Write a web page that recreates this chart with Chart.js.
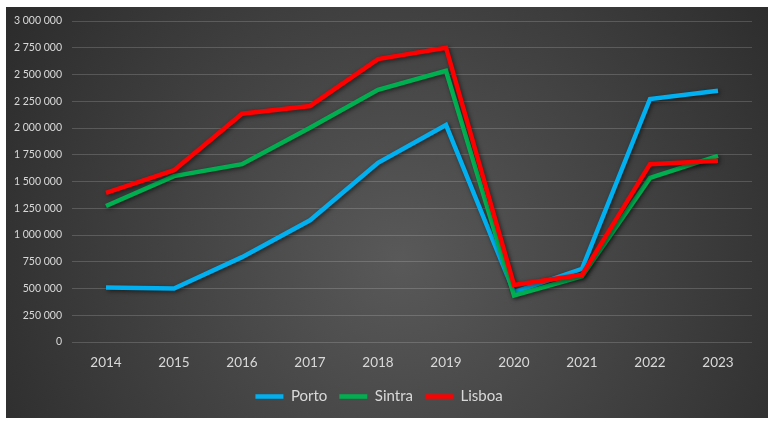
<!DOCTYPE html>
<html>
<head>
<meta charset="utf-8">
<script src="https://cdn.jsdelivr.net/npm/chart.js@4/dist/chart.umd.min.js"></script>
<style>
  html, body { margin: 0; padding: 0; background: #fff; }
  canvas { display: block; }
</style>
</head>
<body>
<canvas id="chart" width="768" height="422"></canvas>
<script>
// --- данные ---
const years = ['2014', '2015', '2016', '2017', '2018', '2019', '2020', '2021', '2022', '2023'];
const porto  = [510000, 500000, 793000, 1137000, 1674000, 2028000, 465000, 684000, 2271000, 2349000];
const sintra = [1271000, 1550000, 1662000, 2003000, 2356000, 2534000, 434000, 615000, 1534000, 1740000];
const lisboa = [1393000, 1606000, 2134000, 2206000, 2644000, 2750000, 534000, 628000, 1662000, 1693000];
const seriesNames = ['Porto', 'Sintra', 'Lisboa'];
const seriesColors = ['#00B0F0', '#00B050', '#FF0000'];

// тёмный фон с радиальным градиентом, как в Excel
const bgPlugin = {
  id: 'bg',
  beforeDraw(chart) {
    const ctx = chart.ctx;
    ctx.save();
    const g = ctx.createRadialGradient(400, 260, 0, 400, 260, 480);
    g.addColorStop(0, '#595959');
    g.addColorStop(1, '#2a2a2a');
    ctx.fillStyle = g;
    ctx.fillRect(6, 7, 762, 411);
    ctx.restore();
  }
};

// тень под линиями
const shadowPlugin = {
  id: 'shadow',
  beforeDatasetDraw(chart) {
    const ctx = chart.ctx;
    ctx.save();
    ctx.shadowColor = 'rgba(0,0,0,0.55)';
    ctx.shadowBlur = 4;
    ctx.shadowOffsetX = 1.5;
    ctx.shadowOffsetY = 1.5;
  },
  afterDatasetDraw(chart) {
    chart.ctx.restore();
  }
};

const fmt = v => String(v).replace(/\B(?=(\d{3})+(?!\d))/g, ' ');

const allSeries = [porto, sintra, lisboa];
new Chart(document.getElementById('chart'), {
  type: 'line',
  data: {
    labels: years,
    datasets: allSeries.map((d, i) => ({
      label: seriesNames[i],
      data: d,
      borderColor: seriesColors[i],
      backgroundColor: seriesColors[i],
      borderWidth: 4.5,
      pointRadius: 0,
      tension: 0,
      order: 3 - i
    }))
  },
  options: {
    responsive: false,
    animation: false,
    devicePixelRatio: 1,
    layout: { padding: { left: 6, right: 16, top: 21, bottom: 8 } },
    plugins: {
      tooltip: { enabled: false },
      legend: {
        position: 'bottom',
        labels: {
          boxWidth: 28,
          boxHeight: 4.5,
          padding: 12,
          color: '#d9d9d9',
          font: { family: 'Lato', size: 15 },
          sort: (a, b) => a.datasetIndex - b.datasetIndex,
          generateLabels(chart) {
            const items = Chart.defaults.plugins.legend.labels.generateLabels(chart);
            items.forEach(it => { it.lineWidth = 0; });
            return items;
          }
        }
      }
    },
    scales: {
      x: {
        offset: true,
        grid: { display: false },
        border: { display: false },
        ticks: { color: '#d9d9d9', font: { family: 'Lato', size: 13.5 }, padding: 5, maxRotation: 0, autoSkip: false },
        afterFit(scale) { scale.height = 35; }
      },
      y: {
        min: 0,
        max: 3000000,
        grid: { color: 'rgba(255,255,255,0.17)', lineWidth: 1, drawTicks: false },
        border: { display: false },
        ticks: {
          stepSize: 250000,
          autoSkip: false,
          color: '#d9d9d9',
          font: { family: 'Lato', size: 10.5 },
          padding: 10,
          callback: v => fmt(v)
        },
        afterFit(scale) { scale.width = 66; }
      }
    }
  },
  plugins: [bgPlugin, shadowPlugin]
});
</script>
</body>
</html>
